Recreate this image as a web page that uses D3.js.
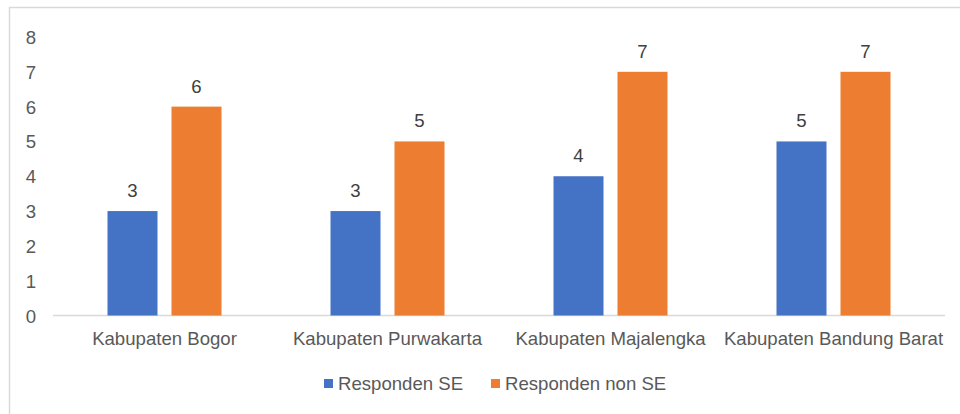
<!DOCTYPE html>
<html>
<head>
<meta charset="utf-8">
<script src="https://cdn.jsdelivr.net/npm/d3@7"></script>
<style>
  html, body { margin: 0; padding: 0; background: #fff; }
  svg { display: block; font-family: "Liberation Sans", Arial, sans-serif; }
</style>
</head>
<body>
<div id="chart"></div>
<script>
// data
const categories = ["Kabupaten Bogor", "Kabupaten Purwakarta", "Kabupaten Majalengka", "Kabupaten Bandung Barat"];
const seriesNames = ["Responden SE", "Responden non SE"];
const respondenSE = [3, 3, 4, 5];
const respondenNonSE = [6, 5, 7, 7];
const yTicks = [0, 1, 2, 3, 4, 5, 6, 7, 8];
const colors = ["#4472C4", "#ED7D31"];

const width = 960, height = 414;
const margin = { left: 53, right: 15, top: 37, bottom: 98.5 };
const FONT = "18.6px";

const svg = d3.select("#chart").append("svg")
  .attr("width", width)
  .attr("height", height);

// chart frame
svg.append("rect")
  .attr("x", 9.5).attr("y", 7.5)
  .attr("width", 980).attr("height", 430)
  .attr("fill", "none")
  .attr("stroke", "#d9d9d9")
  .attr("stroke-width", 1.5);

const x0 = d3.scaleBand()
  .domain(categories)
  .range([margin.left, width - margin.right])
  .paddingInner(0).paddingOuter(0);

const x1 = d3.scaleBand()
  .domain(seriesNames)
  .range([-57, 57])
  .paddingInner(14 / 64);

const y = d3.scaleLinear()
  .domain([0, 8])
  .range([height - margin.bottom, margin.top]);

// y labels
const yAxis = d3.axisLeft(y).tickValues(yTicks).tickSize(0).tickPadding(0);
const gy = svg.append("g")
  .attr("transform", "translate(36,0)")
  .call(yAxis);
gy.select(".domain").remove();
gy.selectAll("text")
  .attr("fill", "#595959")
  .style("font-size", FONT)
  .attr("dy", "0.35em");

// baseline
svg.append("line")
  .attr("x1", margin.left).attr("x2", width - margin.right)
  .attr("y1", y(0)).attr("y2", y(0))
  .attr("stroke", "#d9d9d9")
  .attr("stroke-width", 1.5);

// bars
const rows = categories.map((c, i) => ({
  cat: c,
  vals: [
    { s: seriesNames[0], v: respondenSE[i], color: colors[0] },
    { s: seriesNames[1], v: respondenNonSE[i], color: colors[1] }
  ]
}));

const groups = svg.append("g").selectAll("g")
  .data(rows)
  .enter().append("g")
  .attr("transform", d => `translate(${x0(d.cat) + x0.bandwidth() / 2},0)`);

groups.selectAll("rect")
  .data(d => d.vals)
  .enter().append("rect")
  .attr("x", d => x1(d.s))
  .attr("width", x1.bandwidth())
  .attr("y", d => y(d.v))
  .attr("height", d => y(0) - y(d.v))
  .attr("fill", d => d.color);

groups.selectAll("text.val")
  .data(d => d.vals)
  .enter().append("text")
  .attr("class", "val")
  .attr("x", d => x1(d.s) + x1.bandwidth() / 2)
  .attr("y", d => y(d.v) - 14)
  .attr("text-anchor", "middle")
  .attr("fill", "#404040")
  .style("font-size", FONT)
  .text(d => d.v);

// category labels
svg.append("g").selectAll("text")
  .data(categories)
  .enter().append("text")
  .attr("x", d => x0(d) + x0.bandwidth() / 2)
  .attr("y", 345)
  .attr("text-anchor", "middle")
  .attr("fill", "#595959")
  .style("font-size", FONT)
  .text(d => d);

// legend
const legendX = [324, 491];
const legend = svg.append("g").selectAll("g")
  .data(seriesNames)
  .enter().append("g")
  .attr("transform", (d, i) => `translate(${legendX[i]},379)`);
legend.append("rect")
  .attr("width", 9).attr("height", 9)
  .attr("fill", (d, i) => colors[i]);
legend.append("text")
  .attr("x", 14).attr("y", 11)
  .attr("fill", "#595959")
  .style("font-size", FONT)
  .text(d => d);
</script>
</body>
</html>
